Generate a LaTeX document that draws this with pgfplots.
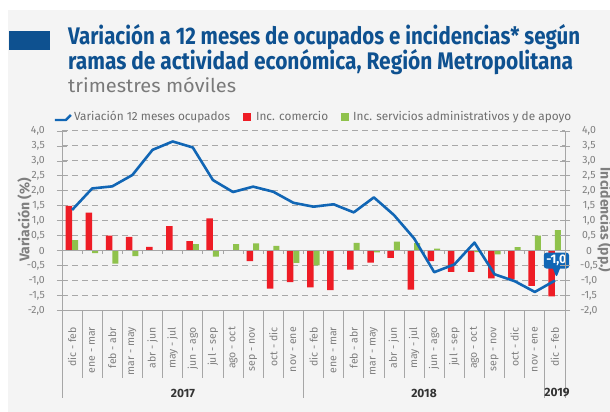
\documentclass[border=0pt]{standalone}
\usepackage{fontspec}
\setmainfont{Fira Sans}
\usepackage{graphicx}
\usepackage{pgfplots}
\usepackage{pgfplotstable}
\pgfplotsset{compat=1.18}
\usetikzlibrary{shapes.callouts}
\definecolor{bgGray}{HTML}{F4F4F4}
\definecolor{titleBlue}{HTML}{0E5190}
\definecolor{lineBlue}{HTML}{1166B5}
\definecolor{redC}{HTML}{EE1C25}
\definecolor{greenC}{HTML}{8FC24C}
\definecolor{gridGray}{HTML}{A8A8A8}
\definecolor{axisGray}{HTML}{A6A6A6}
\definecolor{tickGray}{HTML}{7F7F7F}
\definecolor{legGray}{HTML}{6E6E6E}
\definecolor{subGray}{HTML}{7A7A7A}

\pgfplotstableread{
x line red green
0  1.36  1.50  0.35
1  2.08  1.27 -0.08
2  2.15  0.50 -0.43
3  2.53  0.46 -0.18
4  3.37  0.13  0.00
5  3.65  0.82  0.00
6  3.45  0.32  0.22
7  2.36  1.08 -0.20
8  1.96  0.02  0.22
9  2.14 -0.35  0.24
10 1.97 -1.27  0.16
11 1.60 -1.05 -0.41
12 1.47 -1.23 -0.49
13 1.55 -1.32  0.00
14 1.28 -0.63  0.26
15 1.78 -0.40 -0.06
16 1.19 -0.24  0.30
17 0.41 -1.30  0.25
18 -0.72 -0.35 0.07
19 -0.46 -0.71 0.00
20 0.27 -0.71 -0.05
21 -0.79 -0.93 -0.12
22 -1.02 -0.96 0.12
23 -1.38 -1.18 0.50
24 -1.00 -1.53 0.69
}\datatable

\begin{document}
\begin{tikzpicture}[x=1pt,y=1pt]
\useasboundingbox (0,0) rectangle (610,412);
\fill[white] (0,0) rectangle (610,412);
\fill[bgGray] (8,0) rectangle (610,402);
\fill[titleBlue] (9,362) rectangle (50,381);
\node[anchor=base west, inner sep=0pt, text=titleBlue] at (68,367)
  {\resizebox{512pt}{\height}{\fontsize{24}{24}\selectfont\bfseries Variación a 12 meses de ocupados e incidencias* según}};
\node[anchor=base west, inner sep=0pt, text=titleBlue] at (68,342)
  {\resizebox{505pt}{\height}{\fontsize{24}{24}\selectfont\bfseries ramas de actividad económica, Región Metropolitana}};
\node[anchor=base west, inner sep=0pt, text=subGray] at (68,319)
  {\resizebox{168pt}{\height}{\fontsize{19}{19}\selectfont trimestres móviles}};

\begin{axis}[
  at={(62pt,101.5pt)}, anchor=south west,
  scale only axis, width=503pt, height=179.5pt,
  xmin=-0.5, xmax=24.5, ymin=-2, ymax=4,
  clip=false,
  axis x line*=bottom, axis y line*=left,
  axis line style={axisGray, line width=0.8pt},
  xtick={0,...,24},
  xticklabels={dic - feb, ene - mar, feb - abr, mar - may, abr - jun, may - jul, jun - ago, jul - sep, ago - oct, sep - nov, oct - dic, nov - ene, dic - feb, ene - mar, feb - abr, mar - may, abr - jun, may - jul, jun - ago, jul - sep, ago - oct, sep - nov, oct - dic, nov - ene, dic - feb},
  xticklabel style={rotate=90, anchor=east, inner sep=0pt, text=tickGray, font=\fontsize{10.5}{11}\selectfont},
  xticklabel shift=11.5pt,
  major x tick style={draw=none},
  ytick={-2,-1.5,...,4},
  yticklabels={{-2,0},{-1,5},{-1,0},{-0,5},0,{0,5},{1,0},{1,5},{2,0},{2,5},{3,0},{3,5},{4,0}},
  yticklabel style={anchor=east, inner sep=0pt, text=tickGray, font=\fontsize{10.5}{11}\selectfont},
  yticklabel shift=12pt,
  tick align=center, major tick length=10pt,
  major y tick style={axisGray, line width=0.8pt},
  ymajorgrids,
  major grid style={gridGray, line width=1pt, dash pattern=on 6pt off 4pt},
  legend style={draw=none, fill=none, at={(axis description cs:0.5,1.078)}, anchor=center,
    font=\fontsize{11.8}{12}\selectfont, text=legGray, legend columns=3,
    /tikz/every even column/.append style={column sep=11pt}},
  legend cell align=left,
]
\addlegendimage{draw=none, legend image code/.code={\draw[lineBlue, line width=2.4pt, line join=round] (0pt,-3pt) -- (11pt,-3pt) -- (16pt,2pt);}}
\addlegendentry{Variación 12 meses ocupados}
\addlegendimage{draw=none, legend image code/.code={\fill[redC] (0pt,-4pt) rectangle (8pt,4pt); \path[draw=none, fill=none] (0pt,0pt) rectangle (11pt,0.1pt);}}
\addlegendentry{Inc. comercio}
\addlegendimage{draw=none, legend image code/.code={\fill[greenC] (0pt,-4pt) rectangle (8pt,4pt); \path[draw=none, fill=none] (0pt,0pt) rectangle (10pt,0.1pt);}}
\addlegendentry{Inc. servicios administrativos y de apoyo}

\addplot[ybar, bar width=6.5pt, bar shift=-3.25pt, fill=redC, draw=none, forget plot] table[x=x,y=red]{\datatable};
\addplot[ybar, bar width=6pt, bar shift=3pt, fill=greenC, draw=none, forget plot] table[x=x,y=green]{\datatable};
\draw[axisGray, line width=0.9pt] (axis cs:-0.5,0) -- (axis cs:24.5,0);
\pgfplotsinvokeforeach{0.5,1.5,...,23.5}{\draw[axisGray, line width=0.8pt] (axis cs:#1,0) -- ++(0pt,-3.5pt);}
\addplot[lineBlue, line width=2.6pt, line join=round, no marks, forget plot] table[x=x,y=line]{\datatable};
\pgfplotsinvokeforeach{0.5,1.5,...,22.5}{\draw[axisGray, line width=0.8pt] (axis cs:#1,-2) -- ++(0pt,-67.5pt);}
\draw[axisGray, line width=0.8pt] (axis cs:-0.5,-2) -- ++(0pt,-87.5pt);
\draw[axisGray, line width=0.8pt] (axis cs:11.5,-2) -- ++(0pt,-87.5pt);
\draw[axisGray, line width=0.8pt] (axis cs:23.5,-2) -- ++(0pt,-87.5pt);
\draw[axisGray, line width=0.8pt] (axis cs:24.5,-2) -- ++(0pt,-87.5pt);
\node[rectangle callout, fill=lineBlue, text=white, inner sep=2.5pt, rounded corners=2.5pt,
  font=\bfseries\fontsize{12.5}{13}\selectfont, callout relative pointer={(0pt,-9pt)},
  xshift=1.5pt, yshift=20pt] at (axis cs:24,-1.0) {-1,0};
\end{axis}

\begin{axis}[
  at={(62pt,101.5pt)}, anchor=south west,
  scale only axis, width=503pt, height=179.5pt,
  xmin=-0.5, xmax=24.5, ymin=-2, ymax=4,
  axis x line=none, axis y line*=right,
  axis line style={axisGray, line width=0.8pt},
  ytick={-2,-1.5,...,4},
  yticklabels={{-2,0},{-1,5},{-1,0},{-0,5},0,{0,5},{1,0},{1,5},{2,0},{2,5},{3,0},{3,5},{4,0}},
  yticklabel style={anchor=center, inner sep=0pt, text=tickGray, font=\fontsize{10.5}{11}\selectfont},
  yticklabel shift=19pt,
  tick align=center, major tick length=10pt,
  major y tick style={axisGray, line width=0.8pt},
]
\end{axis}

\node[rotate=90, text=tickGray, font=\bfseries\fontsize{14}{14}\selectfont] at (24.5,192) {Variación (\%)};
\node[rotate=-90, text=tickGray, font=\bfseries\fontsize{14}{14}\selectfont] at (605,192) {Incidencias (pp.)};
\node[text=black!80, font=\bfseries\fontsize{12}{12}\selectfont] at (183,19) {2017};
\node[text=black!80, font=\bfseries\fontsize{12}{12}\selectfont] at (424,19) {2018};
\node[text=black!80, font=\bfseries\fontsize{12}{12}\selectfont] at (557,19) {2019};
\end{tikzpicture}
\end{document}
